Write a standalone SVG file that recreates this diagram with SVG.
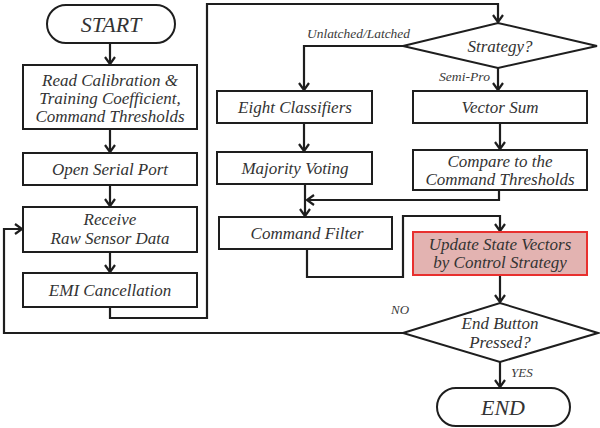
<svg xmlns="http://www.w3.org/2000/svg" width="600" height="428" viewBox="0 0 600 428">
<defs>
<marker id="arr" markerUnits="userSpaceOnUse" markerWidth="12" markerHeight="12" viewBox="0 0 12 12" refX="10" refY="6" orient="auto">
<path d="M3,1 L10,6 L3,11" fill="none" stroke="#1e1e1e" stroke-width="2.2"/>
</marker>
<style>
.box{fill:#fff;stroke:#1e1e1e;stroke-width:2}
.hl{fill:#e3b3b1;stroke:#e8302f;stroke-width:2}
.t{font-family:"Liberation Serif",serif;font-style:italic;font-size:17px;fill:#333;text-anchor:middle}
.big{font-size:22px}
.s{font-family:"Liberation Serif",serif;font-style:italic;font-size:13px;fill:#3a3a3a}
.c{fill:none;stroke:#1e1e1e;stroke-width:2.2;marker-end:url(#arr)}
</style>
</defs>
<rect width="600" height="428" fill="#fff"/>
<g id="connectors">
<path class="c" d="M110,43 V64"/>
<path class="c" d="M110,129 V152"/>
<path class="c" d="M110,185 V206"/>
<path class="c" d="M110,252 V272"/>
<path class="c" d="M110,307 V318 H207 V4 H498 V22"/>
<path class="c" d="M403,46 H304 V90"/>
<path class="c" d="M498,68 V90"/>
<path class="c" d="M304,123 V151"/>
<path class="c" d="M500,123 V149"/>
<path class="c" d="M305,184 V216"/>
<path class="c" d="M499,190 V200 H307"/>
<path class="c" d="M307,249 V277 H403 V216 H500 V231"/>
<path class="c" d="M500,275 V302"/>
<path class="c" d="M403,333 H4 V229 H22"/>
<path class="c" d="M500,362 V387"/>
<text class="s" x="307" y="38" textLength="103" lengthAdjust="spacingAndGlyphs">Unlatched/Latched</text>
<text class="s" x="439" y="81" textLength="51" lengthAdjust="spacingAndGlyphs">Semi-Pro</text>
<text class="s" x="391" y="314" font-size="14">NO</text>
<text class="s" x="511" y="377" font-size="14">YES</text>
</g>
<g id="start">
<rect class="box" x="47" y="5" width="128" height="38" rx="19"/>
<text class="t big" x="111" y="32">START</text>
</g>
<g id="read">
<rect class="box" x="23" y="65" width="174" height="64"/>
<text class="t" x="110" y="86">Read Calibration &amp;</text>
<text class="t" x="110" y="104">Training Coefficient,</text>
<text class="t" x="110" y="122">Command Thresholds</text>
</g>
<g id="open">
<rect class="box" x="23" y="153" width="174" height="32"/>
<text class="t" x="110" y="175">Open Serial Port</text>
</g>
<g id="receive">
<rect class="box" x="23" y="207" width="174" height="45"/>
<text class="t" x="110" y="225">Receive</text>
<text class="t" x="110" y="244">Raw Sensor Data</text>
</g>
<g id="emi">
<rect class="box" x="23" y="273" width="174" height="34"/>
<text class="t" x="110" y="296">EMI Cancellation</text>
</g>
<g id="strategy">
<polygon class="box" points="403,46 498,23 597,46 498,68"/>
<text class="t" x="500" y="52">Strategy?</text>
</g>
<g id="eight">
<rect class="box" x="217" y="91" width="155" height="32"/>
<text class="t" x="295" y="113">Eight Classifiers</text>
</g>
<g id="vector">
<rect class="box" x="413" y="91" width="174" height="32"/>
<text class="t" x="500" y="113">Vector Sum</text>
</g>
<g id="majority">
<rect class="box" x="217" y="152" width="155" height="32"/>
<text class="t" x="295" y="174">Majority Voting</text>
</g>
<g id="compare">
<rect class="box" x="413" y="150" width="174" height="40"/>
<text class="t" x="500" y="167">Compare to the</text>
<text class="t" x="500" y="185">Command Thresholds</text>
</g>
<g id="filter">
<rect class="box" x="219" y="217" width="173" height="32"/>
<text class="t" x="307" y="239">Command Filter</text>
</g>
<g id="update">
<rect class="hl" x="413" y="232" width="174" height="43"/>
<text class="t" x="500" y="250">Update State Vectors</text>
<text class="t" x="500" y="268">by Control Strategy</text>
</g>
<g id="endq">
<polygon class="box" points="403,333 500,303 598,333 500,362"/>
<text class="t" x="500" y="329">End Button</text>
<text class="t" x="500" y="348">Pressed?</text>
</g>
<g id="end">
<rect class="box" x="437" y="388" width="133" height="38" rx="19"/>
<text class="t big" x="503" y="415">END</text>
</g>
</svg>
